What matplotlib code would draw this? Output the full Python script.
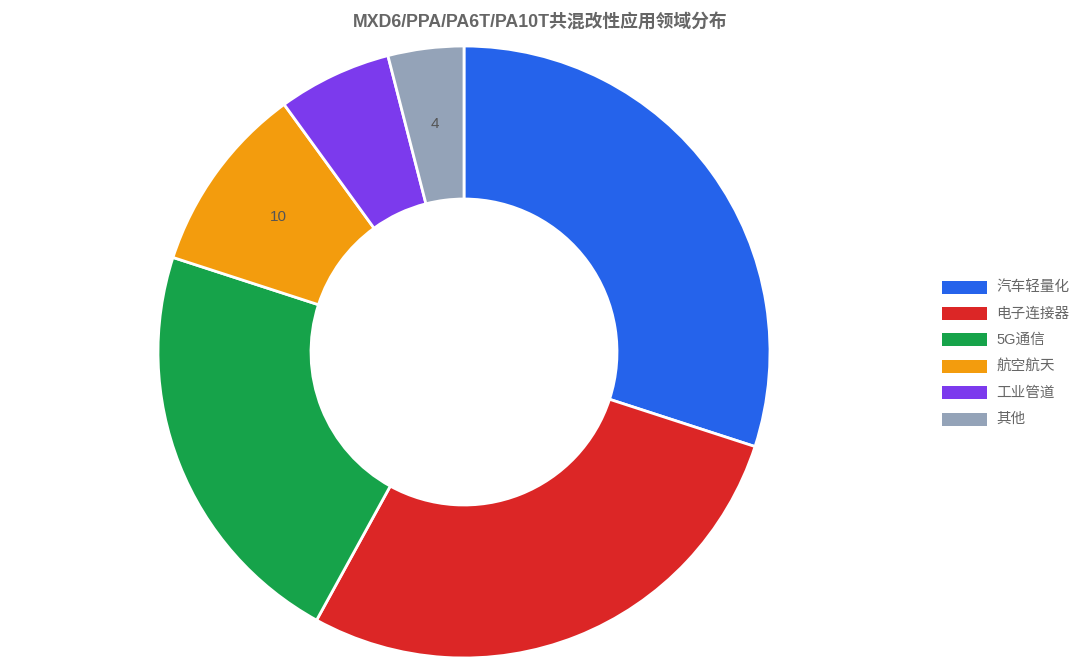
import matplotlib
matplotlib.use("Agg")
import matplotlib.pyplot as plt
from matplotlib.patches import Rectangle
import numpy as np

# Chart data
categories = ["汽车轻量化", "电子连接器", "5G通信", "航空航天", "工业管道", "其他"]
shares = [30, 28, 22, 10, 6, 4]
colors = ["#2563eb", "#dc2626", "#16a34a", "#f39c0d", "#7c3aed", "#94a3b8"]
shown_labels = [False, False, False, True, False, True]  # only these values are printed on the ring

title = "MXD6/PPA/PA6T/PA10T共混改性应用领域分布"
fonts = ["Liberation Sans", "Noto Sans CJK SC", "DejaVu Sans"]

W, H = 1080, 660
fig = plt.figure(figsize=(W / 100, H / 100), dpi=100)
fig.patch.set_facecolor("white")

# square axes for the donut, placed in pixels
cx, cy, r = 464, 352, 306
ax = fig.add_axes([(cx - r) / W, (H - cy - r) / H, 2 * r / W, 2 * r / H])
inner = 153 / r

wedges, _ = ax.pie(shares, colors=colors, startangle=90, counterclock=False,
                   radius=1.0,
                   wedgeprops=dict(width=1 - inner, edgecolor="white", linewidth=2))
ax.set_xlim(-1.0, 1.0)
ax.set_ylim(-1.0, 1.0)
ax.set_aspect("equal")
ax.axis("off")

# value labels at the middle of the ring
mid_r = (1 + inner) / 2
for w, val, show in zip(wedges, shares, shown_labels):
    if not show:
        continue
    ang = np.deg2rad((w.theta1 + w.theta2) / 2)
    ax.text(mid_r * np.cos(ang), mid_r * np.sin(ang), str(val),
            ha="center", va="center", fontsize=11, color="#555555", family=fonts)

fig.text(540 / W, 1 - 22 / H, title, ha="center", va="center", fontsize=12.8,
         fontweight="bold", color="#666666", family=fonts)

# legend on the right, drawn by hand
y0, step = 287, 26.4
for i, (name, col) in enumerate(zip(categories, colors)):
    y = y0 + i * step
    fig.patches.append(Rectangle((942 / W, 1 - (y + 6.5) / H), 45 / W, 13 / H,
                                 transform=fig.transFigure, facecolor=col,
                                 edgecolor="none"))
    fig.text(996 / W, 1 - y / H, name, ha="left", va="center", fontsize=10.5,
             color="#666666", family=fonts)

fig.savefig("out.png", dpi=100)
